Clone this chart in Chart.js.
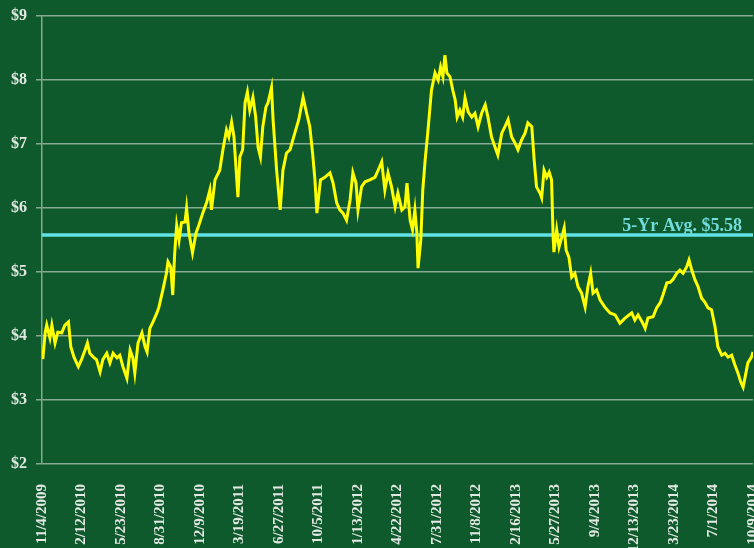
<!doctype html>
<html>

<head>
	<title>Price with 5-Yr Average</title>
	<script src="https://cdn.jsdelivr.net/npm/chart.js@4.4.1/dist/chart.umd.min.js"></script>
	<style>
		html, body {
			margin: 0;
			padding: 0;
			background: #0e5a2c;
		}
		#holder {
			width: 754px;
			height: 548px;
		}
	</style>
</head>

<body>
	<div id="holder">
		<canvas id="chart-area"></canvas>
	</div>
	<script>
		// days since 11/4/2009
		const dayOffsets = [
			2, 8, 12, 20, 25, 33, 40, 50, 58, 67, 73, 81, 92, 100, 109, 115, 121, 130, 138, 147,
			154, 164, 172, 180, 190, 197, 205, 215, 223, 230, 235, 243, 253, 261, 266, 273, 281, 291, 296, 306,
			315, 319, 326, 331, 336, 341, 347, 353, 362, 366, 372, 381, 390, 397, 407, 417, 425, 429, 438, 450,
			458, 467, 473, 480, 486, 491, 496, 501, 508, 514, 520, 526, 534, 541, 547, 553, 559, 567, 572, 581,
			585, 594, 603, 610, 619, 628, 640, 650, 661, 670, 678, 685, 691, 696, 705, 716, 729, 737, 746, 754,
			762, 771, 780, 787, 795, 800, 809, 818, 830, 843, 851, 860, 868, 876, 885, 894, 901, 911, 919, 924,
			932, 938, 944, 949, 952, 959, 964, 970, 977, 986, 995, 1003, 1009, 1015, 1020, 1025, 1033, 1040, 1046, 1051,
			1058, 1065, 1071, 1079, 1088, 1096, 1104, 1113, 1122, 1129, 1138, 1147, 1154, 1164, 1172, 1180, 1189, 1197, 1205, 1214,
			1223, 1230, 1240, 1246, 1252, 1261, 1265, 1271, 1278, 1284, 1290, 1294, 1296, 1303, 1309, 1316, 1322, 1327, 1334, 1341,
			1349, 1357, 1366, 1375, 1382, 1389, 1395, 1404, 1413, 1425, 1438, 1451, 1463, 1476, 1493, 1501, 1509, 1521, 1527, 1534,
			1547, 1556, 1565, 1572, 1582, 1590, 1597, 1607, 1615, 1623, 1632, 1638, 1645, 1653, 1661, 1670, 1678, 1686, 1695, 1704,
			1711, 1721, 1729, 1737, 1746, 1754, 1762, 1769, 1775, 1782, 1787, 1796, 1800
		];
		const prices = [
			3.64, 4.05, 4.17, 3.97, 4.17, 3.89, 4.06, 4.05, 4.17, 4.22, 3.83, 3.67, 3.52, 3.63, 3.78, 3.89, 3.73, 3.67, 3.63, 3.44,
			3.63, 3.73, 3.58, 3.73, 3.66, 3.70, 3.52, 3.34, 3.78, 3.66, 3.42, 3.89, 4.05, 3.83, 3.75, 4.12, 4.22, 4.36, 4.45, 4.72,
			4.98, 5.16, 5.08, 4.64, 5.30, 5.73, 5.50, 5.77, 5.78, 6.00, 5.61, 5.30, 5.61, 5.73, 5.92, 6.09, 6.28, 5.97, 6.44, 6.59,
			6.91, 7.22, 7.11, 7.34, 7.11, 6.64, 6.17, 6.80, 6.91, 7.64, 7.81, 7.53, 7.73, 7.42, 6.95, 6.80, 7.27, 7.58, 7.64, 7.88,
			7.38, 6.59, 5.97, 6.59, 6.86, 6.91, 7.17, 7.38, 7.73, 7.48, 7.27, 6.86, 6.44, 5.92, 6.44, 6.48, 6.55, 6.39, 6.08, 5.97,
			5.92, 5.81, 6.13, 6.55, 6.39, 5.97, 6.33, 6.41, 6.44, 6.48, 6.59, 6.72, 6.28, 6.55, 6.33, 6.02, 6.23, 5.97, 6.02, 6.39,
			5.81, 5.66, 5.97, 5.61, 5.06, 5.50, 6.28, 6.75, 7.20, 7.84, 8.11, 8.00, 8.20, 8.05, 8.39, 8.11, 8.05, 7.84, 7.69, 7.42,
			7.53, 7.42, 7.72, 7.50, 7.42, 7.48, 7.27, 7.48, 7.61, 7.42, 7.11, 6.95, 6.83, 7.17, 7.27, 7.38, 7.11, 7.02, 6.91, 7.06,
			7.17, 7.33, 7.27, 6.75, 6.33, 6.23, 6.16, 6.59, 6.48, 6.56, 6.44, 5.55, 5.31, 5.66, 5.39, 5.55, 5.69, 5.34, 5.23, 4.92,
			4.98, 4.77, 4.67, 4.45, 4.77, 4.98, 4.67, 4.72, 4.56, 4.45, 4.36, 4.33, 4.20, 4.28, 4.36, 4.25, 4.33, 4.20, 4.12, 4.28,
			4.30, 4.44, 4.52, 4.64, 4.83, 4.84, 4.88, 4.98, 5.03, 4.98, 5.08, 5.19, 5.03, 4.88, 4.77, 4.59, 4.53, 4.44, 4.41, 4.14,
			3.83, 3.70, 3.73, 3.67, 3.70, 3.55, 3.42, 3.28, 3.20, 3.42, 3.58, 3.67, 3.75
		];
		const fiveYearAvg = 5.58;
		const avgLabel = '5-Yr Avg. $5.58';
		const yTicks = [2, 3, 4, 5, 6, 7, 8, 9];
		const startDate = Date.UTC(2009, 10, 4);
		const tickStepDays = 100;
		const lastDay = 1800;

		const gridColor = 'rgba(215, 225, 215, 0.6)';
		const textColor = '#e4e8e4';
		const serif = '"Liberation Serif", "Times New Roman", serif';

		const formatDay = function(d) {
			const dt = new Date(startDate + d * 86400000);
			return (dt.getUTCMonth() + 1) + '/' + dt.getUTCDate() + '/' + dt.getUTCFullYear();
		};

		const avgText = {
			id: 'avgText',
			afterDatasetsDraw(chart) {
				const ctx = chart.ctx;
				const y = chart.scales.y.getPixelForValue(fiveYearAvg);
				ctx.save();
				ctx.font = 'bold 18px ' + serif;
				ctx.fillStyle = '#72dcdc';
				ctx.textAlign = 'right';
				ctx.textBaseline = 'alphabetic';
				ctx.fillText(avgLabel, 742, y - 4);
				ctx.restore();
			}
		};

		const config = {
			type: 'line',
			data: {
				datasets: [{
					label: 'Price',
					data: dayOffsets.map((d, i) => ({x: d, y: prices[i]})),
					borderColor: '#ffff00',
					borderWidth: 3,
					pointRadius: 0,
					tension: 0,
					order: 1
				}, {
					label: '5-Yr Avg',
					data: [{x: 0, y: fiveYearAvg}, {x: lastDay, y: fiveYearAvg}],
					borderColor: '#5fe3e6',
					borderWidth: 3.5,
					pointRadius: 0,
					order: 2
				}]
			},
			options: {
				responsive: true,
				maintainAspectRatio: false,
				animation: false,
				layout: {
					padding: {top: 16, right: 1, left: 0, bottom: 0}
				},
				plugins: {
					legend: {display: false},
					tooltip: {enabled: false}
				},
				scales: {
					x: {
						type: 'linear',
						min: 0,
						max: lastDay,
						afterFit(scale) {
							scale.height = 84;
							scale.paddingLeft = 0;
							scale.paddingRight = 0;
						},
						grid: {display: false},
						border: {display: false},
						ticks: {
							stepSize: tickStepDays,
							autoSkip: false,
							includeBounds: false,
							minRotation: 90,
							maxRotation: 90,
							padding: 12,
							color: textColor,
							font: {family: serif, size: 15, weight: 'bold'},
							callback: (v) => formatDay(v)
						}
					},
					y: {
						min: 2,
						max: 9,
						afterFit(scale) {
							scale.width = 42;
							scale.paddingTop = 0;
							scale.paddingBottom = 0;
						},
						afterBuildTicks(scale) {
							scale.ticks = yTicks.map(v => ({value: v}));
						},
						grid: {
							color: gridColor,
							lineWidth: 1.5,
							tickLength: 6
						},
						border: {display: true, color: gridColor, width: 1.5},
						ticks: {
							padding: 9,
							color: textColor,
							font: {family: serif, size: 16, weight: 'bold'},
							callback: (v) => '$' + v
						}
					}
				}
			},
			plugins: [avgText]
		};

		window.onload = function() {
			const ctx = document.getElementById('chart-area');
			window.myLine = new Chart(ctx, config);
		};
	</script>
</body>

</html>
